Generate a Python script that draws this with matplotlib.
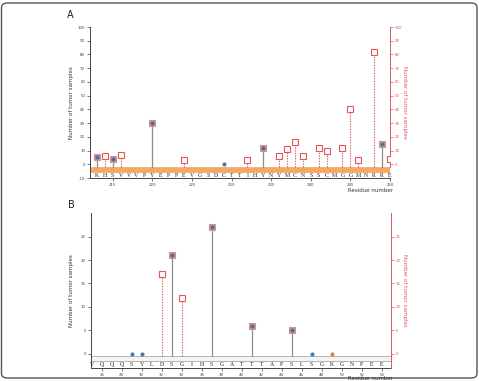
import matplotlib
matplotlib.use('Agg')
import matplotlib.pyplot as plt
from matplotlib.patches import FancyBboxPatch, Rectangle

# ---------------- data ----------------
a_res = list(range(213, 251))
a_letters = list("KHSVVVPYEPPEVGSDCTTIHYNYMCNSSCMGGMNRRE")
a_left_pos = [213, 215, 220, 234, 249]
a_left_val = [5, 4, 30, 12, 15]
a_zero_pos = [229]
a_right_pos = [214, 216, 224, 232, 236, 237, 238, 239, 241, 242, 244, 245, 246, 248, 250]
a_right_val = [6, 7, 3, 3, 6, 11, 16, 6, 12, 10, 12, 40, 3, 82, 4]

b_res = list(range(25, 55))
b_letters = list("VQQQSYLDSGIHSGATTTAPSLSGKGNPEE")
b_left_pos = [33, 37, 41, 45]
b_left_val = [21, 27, 6, 5]
b_zero_pos = [29, 30, 47]
b_zero_gold = [49]
b_right_pos = [32, 34]
b_right_val = [17, 12]

# ---------------- style ----------------
W, H = 479, 381
fig = plt.figure(figsize=(W / 100, H / 100), dpi=100)
RED = '#e2585a'
GRAY = '#8c8c8c'
BLUE = '#4a6f9c'
SQ_FACE = '#a59aa6'
SQ_EDGE = '#e58a8c'
TICK_FS = 2.8
LET_FS = 4.2

frame = FancyBboxPatch((1.5 / W, 3 / H), 475.5 / W, 375 / H,
                       boxstyle='round,pad=0,rounding_size=0.012',
                       transform=fig.transFigure, fill=False,
                       edgecolor='#555555', linewidth=1.0)
fig.patches.append(frame)


def ax_rect(l, t, r, b):
    return [l / W, 1 - b / H, (r - l) / W, (b - t) / H]


def style_axes(ax, axr, ylim, yticks, rticks, rbounds, xlim, xmaj):
    ax.set_xlim(*xlim)
    ax.set_ylim(*ylim)
    axr.set_ylim(*ylim)
    for s in ['top', 'right']:
        ax.spines[s].set_visible(False)
    for s in ['top', 'left', 'bottom']:
        axr.spines[s].set_visible(False)
    ax.spines['left'].set_color('#444444')
    ax.spines['bottom'].set_color('#444444')
    ax.spines['left'].set_linewidth(0.7)
    ax.spines['bottom'].set_linewidth(0.7)
    axr.spines['right'].set_color(RED)
    axr.spines['right'].set_linewidth(0.7)
    axr.spines['right'].set_bounds(*rbounds)
    ax.set_yticks(yticks)
    ax.set_yticklabels([str(t) for t in yticks])
    axr.set_yticks(rticks)
    axr.set_yticklabels([str(t) for t in rticks])
    ax.tick_params(axis='y', length=2, width=0.5, pad=1.5, labelsize=TICK_FS,
                   colors='#444444')
    axr.tick_params(axis='y', length=2, width=0.5, pad=1.5, labelsize=TICK_FS,
                    colors=RED)
    ax.set_xticks(xmaj)
    ax.set_xticklabels([str(t) for t in xmaj])
    ax.tick_params(axis='x', length=2.5, width=0.5, pad=1.0, labelsize=TICK_FS,
                   colors='#444444')
    ax.set_facecolor('none')
    axr.set_facecolor('none')


def stem_markers(ax, pos, val, base):
    for p, v in zip(pos, val):
        ax.plot([p, p], [base, v], color=GRAY, lw=0.9, zorder=2)
    ax.plot(pos, val, ls='none', marker='s', ms=4.3, mfc=SQ_FACE, mec=SQ_EDGE,
            mew=0.8, zorder=4)
    ax.plot(pos, val, ls='none', marker='o', ms=2.8, mfc=BLUE, mec=BLUE,
            mew=0, zorder=5)


def red_markers(ax, pos, val, base):
    for p, v in zip(pos, val):
        ax.plot([p, p], [base, v], color=RED, lw=0.8, ls=(0, (1.2, 1.2)), zorder=2)
    ax.plot(pos, val, ls='none', marker='s', ms=4.5, mfc='white', mec=RED,
            mew=0.8, zorder=4)


# ---------------- Panel A ----------------
axA = fig.add_axes(ax_rect(90, 27, 390, 178))
axAr = axA.twinx()
style_axes(axA, axAr, (-10, 100), list(range(-10, 101, 10)),
           list(range(0, 101, 10)), (-2, 100), (212.13, 250.0),
           list(range(215, 251, 5)))
axA.add_patch(Rectangle((212.13, -5.4), 250.0 - 212.13, 3.4, facecolor='#f5a862',
                        edgecolor='#e99a50', lw=0.4, zorder=1))
for r, l in zip(a_res, a_letters):
    axA.text(r, -8, l, ha='center', va='center', fontsize=LET_FS,
             family='Liberation Serif', color='#222222', zorder=3)
stem_markers(axA, a_left_pos, a_left_val, -2)
axA.plot(a_zero_pos, [0] * len(a_zero_pos), ls='none', marker='o', ms=3,
         mfc='#4a7ab2', mew=0, zorder=5)
axAr.set_xlim(212.13, 250.0)
red_markers(axAr, a_right_pos, a_right_val, -2)

# ---------------- Panel B ----------------
axB = fig.add_axes(ax_rect(90.7, 213.3, 390.7, 367.7))
axBr = axB.twinx()
style_axes(axB, axBr, (-3, 30), list(range(0, 26, 5)),
           list(range(0, 26, 5)), (-3, 30), (24.9, 54.9),
           list(range(26, 55, 2)))
axB.add_patch(Rectangle((24.9, -1.6), 30, 1.0, facecolor='#f4f4f4',
                        edgecolor='#9a9a9a', lw=0.5, zorder=1))
for r, l in zip(b_res, b_letters):
    axB.text(r, -2.3, l, ha='center', va='center', fontsize=LET_FS,
             family='Liberation Serif', color='#222222', zorder=3)
stem_markers(axB, b_left_pos, b_left_val, -0.6)
axB.plot(b_zero_pos, [0] * len(b_zero_pos), ls='none', marker='o', ms=3,
         mfc='#4a7ab2', mew=0, zorder=5)
axB.plot(b_zero_gold, [0] * len(b_zero_gold), ls='none', marker='o', ms=3,
         mfc='#b8904a', mew=0, zorder=5)
axBr.set_xlim(24.9, 54.9)
red_markers(axBr, b_right_pos, b_right_val, -0.6)

# ---------------- labels ----------------
fig.text(70 / W, 1 - 15 / H, 'A', fontsize=7, ha='center', va='center', color='#222222')
fig.text(71.5 / W, 1 - 205 / H, 'B', fontsize=7, ha='center', va='center', color='#222222')

for yc in [(27 + 178) / 2, (213.3 + 367.7) / 2]:
    fig.text(71.5 / W, 1 - yc / H, 'Number of tumor samples', rotation=90,
             fontsize=4.0, ha='center', va='center', color='#333333')
    fig.text(405 / W, 1 - yc / H, 'Number of tumor samples', rotation=-90,
             fontsize=4.0, ha='center', va='center', color=RED)

fig.text(370 / W, 1 - 190 / H, 'Residue number', fontsize=4.0, ha='center',
         va='center', color='#333333')
fig.text(370 / W, 1 - 378.8 / H, 'Residue number', fontsize=4.0, ha='center',
         va='center', color='#333333')

fig.savefig('out.png', dpi=100)
